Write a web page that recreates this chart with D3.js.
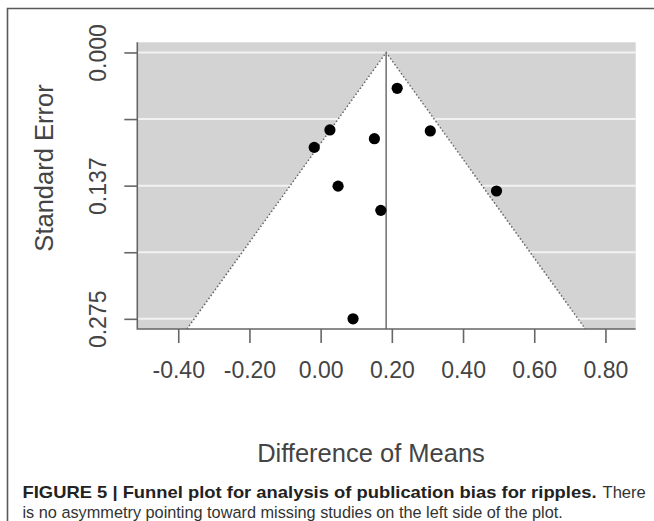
<!DOCTYPE html>
<html>
<head>
<meta charset="utf-8">
<script src="https://cdn.jsdelivr.net/npm/d3@7"></script>
<style>
  html, body { margin: 0; padding: 0; background: #fff; }
  svg { display: block; }
  text { font-family: "Liberation Sans", Arial, Helvetica, sans-serif; }
</style>
</head>
<body>
<svg id="chart" width="654" height="521"></svg>
<script>
// ---- data ----
const studyEffect = [0.215, 0.026, -0.018, 0.151, 0.308, 0.049, 0.494, 0.169, 0.091];
const studySE     = [0.037, 0.080, 0.098, 0.089, 0.081, 0.138, 0.143, 0.163, 0.275];
const pooledEffect = 0.184;
const xTicks = [-0.4, -0.2, 0.0, 0.2, 0.4, 0.6, 0.8];
const xTickLabels = ["-0.40", "-0.20", "0.00", "0.20", "0.40", "0.60", "0.80"];
const yTicks = [0, 0.06875, 0.1375, 0.20625, 0.275];
const yTickLabels = ["0.000", "", "0.137", "", "0.275"];
const xDomain = [-0.515, 0.885];
const yDomain = [-0.0105, 0.2855];
const xLabel = "Difference of Means";
const yLabel = "Standard Error";
const captionBold = "FIGURE 5 | Funnel plot for analysis of publication bias for ripples.";
const captionRest1 = "There";
const captionLine2 = "is no asymmetry pointing toward missing studies on the left side of the plot.";

// ---- layout ----
const svg = d3.select("#chart");
const plot = { left: 137.3, right: 635.7, top: 42.3, bottom: 329 };
const x = d3.scaleLinear().domain(xDomain).range([plot.left, plot.right]);
const y = d3.scaleLinear().domain(yDomain).range([plot.top, plot.bottom]);

// outer frame
svg.append("path")
  .attr("d", "M7.5,521 V8.5 H654")
  .attr("fill", "none").attr("stroke", "#5a5a5a").attr("stroke-width", 1.6);

// grey background
svg.append("rect")
  .attr("x", plot.left).attr("y", plot.top)
  .attr("width", plot.right - plot.left).attr("height", plot.bottom - plot.top)
  .attr("fill", "#d3d3d3");

// gridlines
svg.append("g").selectAll("line").data(yTicks).join("line")
  .attr("x1", plot.left).attr("x2", plot.right)
  .attr("y1", d => y(d)).attr("y2", d => y(d))
  .attr("stroke", "#f2f2f2").attr("stroke-width", 2);

// funnel (white region)
const seMax = yDomain[1];
const funnelPts = [
  [pooledEffect - 1.96 * seMax, seMax],
  [pooledEffect, 0],
  [pooledEffect + 1.96 * seMax, seMax]
];
const funnelLine = d3.line().x(d => x(d[0])).y(d => y(d[1]));
svg.append("path").attr("d", funnelLine(funnelPts) + "Z").attr("fill", "#fff");
svg.append("path")
  .attr("d", funnelLine(funnelPts))
  .attr("fill", "none").attr("stroke", "#666").attr("stroke-width", 1.5)
  .attr("stroke-dasharray", "1.5,2.2");

// reference line
svg.append("line")
  .attr("x1", x(pooledEffect)).attr("x2", x(pooledEffect))
  .attr("y1", y(0)).attr("y2", plot.bottom)
  .attr("stroke", "#777").attr("stroke-width", 1.6);

// points
svg.append("g").selectAll("circle").data(studyEffect).join("circle")
  .attr("cx", d => x(d)).attr("cy", (d, i) => y(studySE[i]))
  .attr("r", 5.6).attr("fill", "#000");

// box lines (left + bottom)
svg.append("path")
  .attr("d", `M${plot.left},${plot.top} V${plot.bottom} H${plot.right}`)
  .attr("fill", "none").attr("stroke", "#666").attr("stroke-width", 1.6);

// x axis
const gx = svg.append("g").attr("transform", `translate(0,${plot.bottom})`)
  .call(d3.axisBottom(x).tickValues(xTicks).tickSize(14).tickSizeOuter(0)
    .tickFormat((d, i) => xTickLabels[i]));
gx.select(".domain").remove();
gx.selectAll(".tick line").attr("stroke", "#666").attr("stroke-width", 1.6);
gx.selectAll(".tick text")
  .attr("y", 49).attr("dy", 0)
  .attr("fill", "#444").style("font-size", "23px");

// y axis
const gy = svg.append("g").attr("transform", `translate(${plot.left},0)`)
  .call(d3.axisLeft(y).tickValues(yTicks).tickSize(13).tickSizeOuter(0)
    .tickFormat((d, i) => yTickLabels[i]));
gy.select(".domain").remove();
gy.selectAll(".tick line").attr("stroke", "#666").attr("stroke-width", 1.6);
gy.selectAll(".tick text")
  .attr("x", 0).attr("y", 0).attr("dy", 0)
  .attr("transform", "translate(-31,0) rotate(-90)")
  .attr("text-anchor", "middle")
  .attr("fill", "#444").style("font-size", "23px");

// axis titles
svg.append("text")
  .attr("x", 371).attr("y", 462)
  .attr("text-anchor", "middle")
  .attr("fill", "#444").style("font-size", "25.5px")
  .text(xLabel);
svg.append("text")
  .attr("transform", "translate(53,168) rotate(-90)")
  .attr("text-anchor", "middle")
  .attr("fill", "#444").style("font-size", "25.5px")
  .text(yLabel);

// caption
const cap = svg.append("text").attr("x", 22.5).attr("y", 498).attr("fill", "#222");
cap.append("tspan").attr("font-weight", "bold").style("font-size", "17px")
  .attr("textLength", 574).attr("lengthAdjust", "spacingAndGlyphs")
  .text(captionBold);
cap.append("tspan").attr("x", 602.5).attr("fill", "#333").style("font-size", "16.6px")
  .text(captionRest1);
svg.append("text").attr("x", 22.5).attr("y", 517.5)
  .style("font-size", "16.3px").attr("fill", "#333")
  .text(captionLine2);
</script>
</body>
</html>
